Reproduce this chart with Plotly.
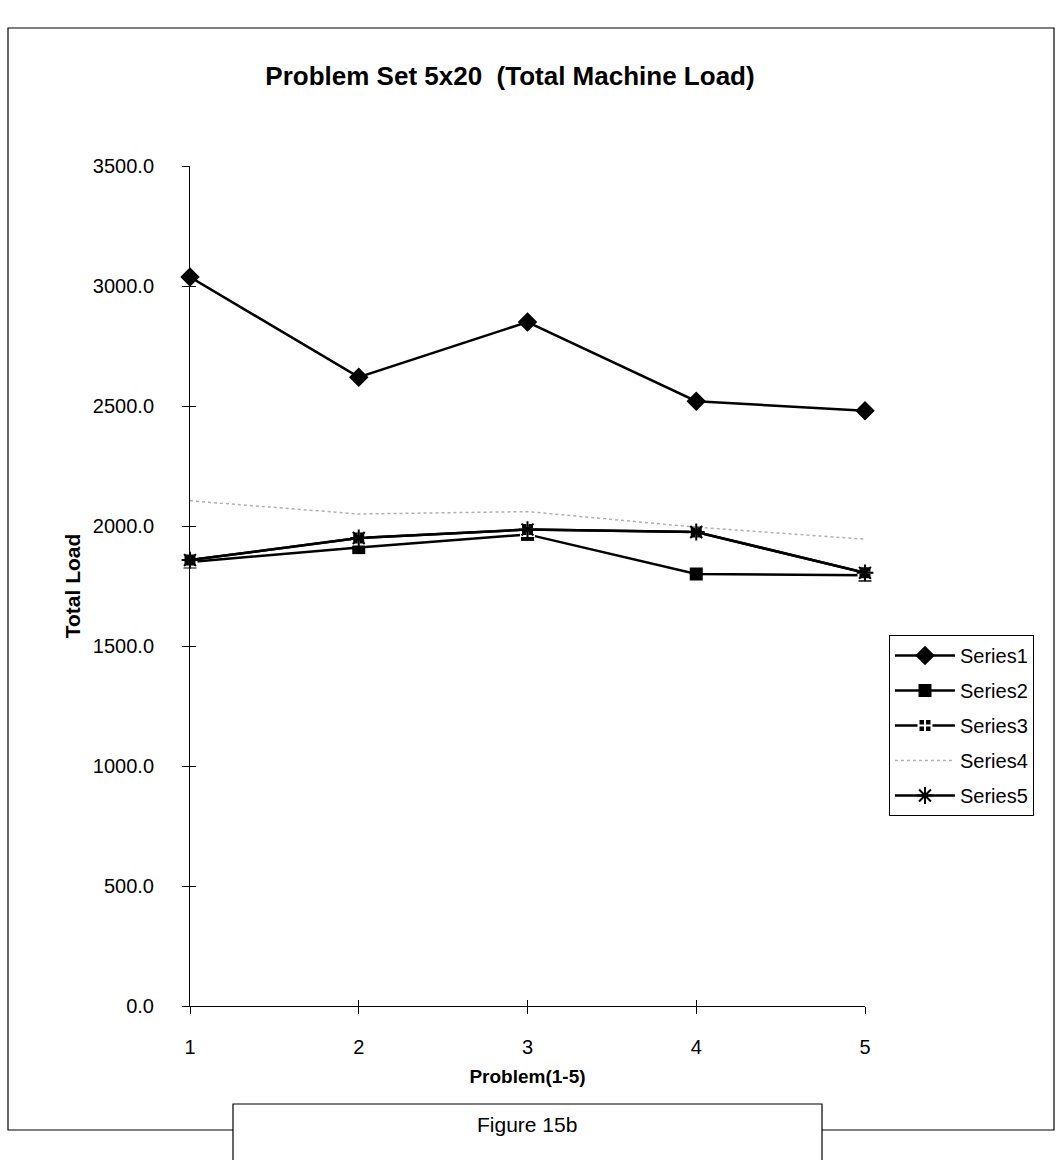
import plotly.graph_objects as go

problems = [1, 2, 3, 4, 5]
series1 = [3037, 2620, 2850, 2520, 2480]
series2 = [1850, 1910, 1965, 1800, 1795]
series3 = [1858, 1950, 1985, 1975, 1805]
series4 = [2105, 2050, 2060, 1995, 1945]
series5 = [1858, 1950, 1985, 1975, 1805]
y_ticks = [0, 500, 1000, 1500, 2000, 2500, 3000, 3500]
y_tick_labels = ["0.0", "500.0", "1000.0", "1500.0", "2000.0", "2500.0", "3000.0", "3500.0"]

FONT = "Liberation Sans, Arial, sans-serif"

fig = go.Figure()
fig.add_trace(go.Scatter(x=problems, y=series1, name="Series1", mode="lines+markers",
                         line=dict(color="black", width=2.5),
                         marker=dict(symbol="diamond", size=15, color="black"),
                         cliponaxis=False, legendgroup="1"))
fig.add_trace(go.Scatter(x=problems, y=series2, name="Series2", mode="lines+markers",
                         line=dict(color="black", width=2.5),
                         marker=dict(symbol="square", size=13, color="black"),
                         cliponaxis=False, legendgroup="2"))
fig.add_trace(go.Scatter(x=problems, y=series3, name="Series3", mode="lines+markers",
                         line=dict(color="black", width=2.5),
                         marker=dict(symbol="square-cross", size=13, color="black",
                                     line=dict(color="white", width=2)),
                         cliponaxis=False, legendgroup="3"))
fig.add_trace(go.Scatter(x=problems, y=series4, name="Series4", mode="lines",
                         line=dict(color="#b0b0b0", width=1.5, dash="dot"),
                         cliponaxis=False, legendgroup="4"))
fig.add_trace(go.Scatter(x=problems, y=series5, name="Series5", mode="lines+markers",
                         line=dict(color="black", width=2.5),
                         marker=dict(symbol="asterisk-open", size=14, color="black",
                                     line=dict(color="black", width=2)),
                         cliponaxis=False, legendgroup="5"))
# empty trace so the overlay axes (inner half of crossing tick marks) get drawn
fig.add_trace(go.Scatter(x=[None], y=[None], xaxis="x2", yaxis="y2",
                         showlegend=False, hoverinfo="skip"))

def px_x(p):
    return (p - 190) / 675.0

def px_y(p):
    return (1006 - p) / 840.0

shapes = [
    dict(type="rect", xref="paper", yref="paper", layer="above",
         x0=px_x(8), x1=px_x(1054), y0=px_y(1130), y1=px_y(28),
         line=dict(color="black", width=1.2), fillcolor="rgba(0,0,0,0)"),
    dict(type="rect", xref="paper", yref="paper", layer="above",
         x0=px_x(233), x1=px_x(822), y0=px_y(1175), y1=px_y(1104),
         line=dict(color="black", width=1.2), fillcolor="white"),
]

fig.update_layout(
    width=1060, height=1160,
    margin=dict(l=190, r=195, t=166, b=154),
    paper_bgcolor="white", plot_bgcolor="white",
    font=dict(family=FONT, color="black", size=20),
    title=dict(text="<b>Problem Set 5x20  (Total Machine Load)</b>",
               x=510 / 1060, xanchor="center",
               y=1 - 76 / 1160, yanchor="middle",
               font=dict(size=26, family=FONT)),
    showlegend=True,
    legend=dict(x=px_x(889), y=px_y(635), xanchor="left", yanchor="top",
                bordercolor="black", borderwidth=1, bgcolor="white",
                font=dict(size=20, family=FONT), tracegroupgap=6,
                itemwidth=60),
    shapes=shapes,
    annotations=[dict(text="Figure 15b", xref="paper", yref="paper",
                      x=px_x(527), y=px_y(1124), showarrow=False,
                      xanchor="center", yanchor="middle",
                      font=dict(size=21, family=FONT))],
    xaxis=dict(range=[1, 5], tickvals=problems, ticktext=[str(p) for p in problems],
               showline=True, linecolor="black", linewidth=1,
               ticks="outside", ticklen=7, tickcolor="black",
               showgrid=False, zeroline=False, ticklabelstandoff=16,
               title=dict(text="<b>Problem(1-5)</b>", font=dict(size=19), standoff=12),
               tickfont=dict(size=20)),
    yaxis=dict(range=[0, 3500], tickvals=y_ticks, ticktext=y_tick_labels,
               showline=True, linecolor="black", linewidth=1,
               ticks="outside", ticklen=7, tickcolor="black",
               showgrid=False, zeroline=False, ticklabelstandoff=24,
               title=dict(text="<b>Total Load</b>", font=dict(size=21), standoff=6),
               tickfont=dict(size=20)),
    xaxis2=dict(overlaying="x", range=[1, 5], tickvals=problems, showticklabels=False,
                ticks="inside", ticklen=6, tickcolor="black", showline=False,
                showgrid=False, zeroline=False, anchor="y2", side="bottom"),
    yaxis2=dict(overlaying="y", range=[0, 3500], tickvals=y_ticks, showticklabels=False,
                ticks="inside", ticklen=6, tickcolor="black", showline=False,
                showgrid=False, zeroline=False, anchor="x2", side="left"),
)

fig.write_html("out.html")
